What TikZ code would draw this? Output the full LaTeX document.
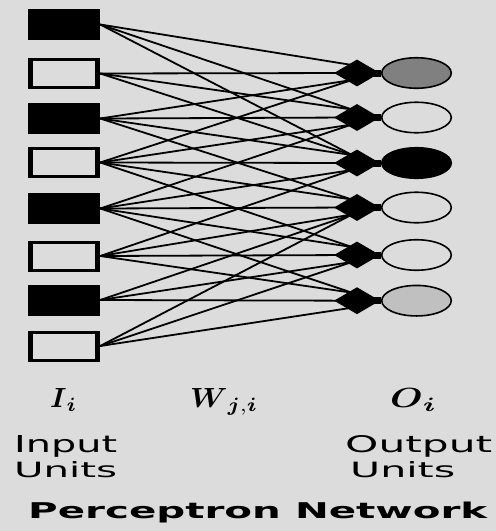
\documentclass[tikz,border=0pt]{standalone}
\usepackage{fontspec}
\usepackage{amsmath}
\usepackage{graphicx}
\setsansfont{DejaVu Sans}
\usetikzlibrary{shapes.geometric,calc,backgrounds}
\definecolor{bg}{RGB}{220,220,220}
\definecolor{midgray}{RGB}{128,128,128}
\definecolor{palegray}{RGB}{192,192,192}

\begin{document}
\begin{tikzpicture}[x=1pt,y=-1pt,
  inunit/.style={rectangle, minimum width=72pt, minimum height=31pt, inner sep=0pt, fill=black},
  onunit/.style={inunit},
  offunit/.style={inunit, path picture={\fill[bg]
      ([shift={(5pt,-3pt)}]path picture bounding box.north west) rectangle
      ([shift={(-5pt,3pt)}]path picture bounding box.south east);}},
  junction/.style={diamond, fill=black, minimum width=46pt, minimum height=27pt, inner sep=0pt},
  outunit/.style={ellipse, draw=black, line width=1.6pt, minimum width=69.5pt, minimum height=30.5pt, inner sep=0pt},
  weight/.style={draw=black, line width=1.8pt},
  neck/.style={draw=black, line width=7pt},
  lbl/.style={inner sep=0pt, anchor=base west},
]
% canvas
\useasboundingbox (0,0) rectangle (496,531);

% input units
\foreach \i/\y/\s in {1/24.5/onunit, 2/73.5/offunit, 3/118.5/onunit, 4/162.5/offunit,
                      5/208.5/onunit, 6/256/offunit, 7/300/onunit, 8/346/offunit}
  \node[\s] (in\i) at (64,\y) {};

% output units: summing junction and activation
\foreach \j/\y/\c in {1/73/midgray, 2/117.5/bg, 3/163/black, 4/207.5/bg, 5/255/bg, 6/300.7/palegray}{
  \node[junction] (d\j) at (357,\y) {};
  \node[outunit, fill=\c] (o\j) at (416.5,\y) {};
}

\begin{scope}[on background layer]
  \fill[bg] (0,0) rectangle (496,531);
  % weights W_{j,i}
  \foreach \i/\j/\dy in {1/1/-8, 1/2/-8, 1/3/-8,
                         2/1/0, 2/2/-8, 2/3/-8,
                         3/1/7, 3/2/0, 3/3/-8, 3/4/-8,
                         4/1/7, 4/2/7, 4/3/0, 4/4/-8, 4/5/-8,
                         5/2/7, 5/3/7, 5/4/0, 5/5/-8, 5/6/-8,
                         6/3/7, 6/4/7, 6/5/0, 6/6/-8,
                         7/4/7, 7/5/7, 7/6/0,
                         8/4/7, 8/5/7, 8/6/7}
    \draw[weight] (in\i.east) -- ($(d\j.center)+(-5,\dy)$);
  \foreach \j in {1,...,6}
    \draw[neck] (d\j.center) -- (o\j.west);
\end{scope}

% labels
\node[lbl] (li) at (50,407) {\resizebox{27pt}{19pt}{$\boldsymbol{I}_{\boldsymbol{i}}$}};
\node[lbl] (lw) at (190,407) {\resizebox{68pt}{19pt}{$\boldsymbol{W}_{\boldsymbol{j},\boldsymbol{i}}$}};
\node[lbl] (lo) at (390,407) {\resizebox{47pt}{19pt}{$\boldsymbol{O}_{\boldsymbol{i}}$}};

\node[lbl] (tin1) at (14,452) {\resizebox{103pt}{17pt}{\sffamily Input}};
\node[lbl] (tin2) at (14,477) {\resizebox{103pt}{16pt}{\sffamily Units}};
\node[lbl] (tout1) at (345,452) {\resizebox{147pt}{17pt}{\sffamily Output}};
\node[lbl] (tout2) at (350,477) {\resizebox{105pt}{16pt}{\sffamily Units}};

\node[lbl] (title) at (28,518) {\resizebox{459pt}{16.5pt}{\sffamily\bfseries Perceptron Network}};
\end{tikzpicture}
\end{document}
